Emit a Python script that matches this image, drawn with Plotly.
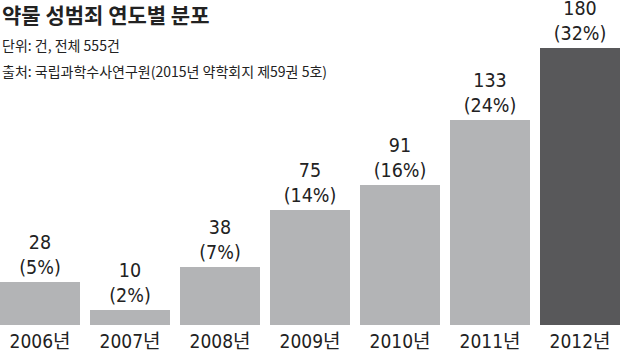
import plotly.graph_objects as go

years = ["2006년", "2007년", "2008년", "2009년", "2010년", "2011년", "2012년"]
counts = [28, 10, 38, 75, 91, 133, 180]
shares = [5, 2, 7, 14, 16, 24, 32]
colors = ["#b3b4b6"] * 6 + ["#58585a"]

title = "약물 성범죄 연도별 분포"
sub1 = "단위: 건, 전체 555건"
sub2 = "출처: 국립과학수사연구원(2015년 약학회지 제59권 5호)"

num_font = "Liberation Sans Narrow, DejaVu Sans Condensed, Roboto, Noto Sans CJK KR, sans-serif"
kr_font = "Noto Sans CJK KR, sans-serif"

xs = list(range(len(years)))
labels = [f"{c}<br>({s}%)" for c, s in zip(counts, shares)]

fig = go.Figure(go.Bar(
    x=xs, y=counts, width=80/90,
    marker=dict(color=colors, line=dict(width=0)),
    text=labels, textposition="outside", cliponaxis=False,
    textfont=dict(family=num_font, size=19.5, color="#222222"),
    hoverinfo="skip",
))

fig.update_layout(
    template="none",
    width=620, height=355,
    margin=dict(l=0, r=0, t=0, b=30, autoexpand=False),
    paper_bgcolor="white", plot_bgcolor="white",
    showlegend=False,
    bargap=0,
    xaxis=dict(range=[-40/90, 6 + 40/90], tickvals=xs, ticktext=years,
               automargin=False, ticklabelstandoff=3,
               showgrid=False, zeroline=False, showline=False, ticks="",
               tickfont=dict(family=num_font, size=19, color="#222222")),
    yaxis=dict(range=[0, 325/1.539], visible=False, showgrid=False,
               zeroline=False, automargin=False),
    annotations=[
        dict(text=title, x=0, y=(325-14)/325, xref="paper", yref="paper",
             xanchor="left", yanchor="middle", showarrow=False,
             font=dict(family=kr_font, size=21, color="#222222", weight="bold")),
        dict(text=sub1, x=0, y=(325-45)/325, xref="paper", yref="paper",
             xanchor="left", yanchor="middle", showarrow=False,
             font=dict(family=kr_font, size=14, color="#222222")),
        dict(text=sub2, x=0, y=(325-71)/325, xref="paper", yref="paper",
             xanchor="left", yanchor="middle", showarrow=False,
             font=dict(family=kr_font, size=14, color="#222222")),
    ],
)

fig.write_html("out.html", config={"displayModeBar": False},
               post_script="document.body.style.margin='0';document.body.style.padding='0';")
